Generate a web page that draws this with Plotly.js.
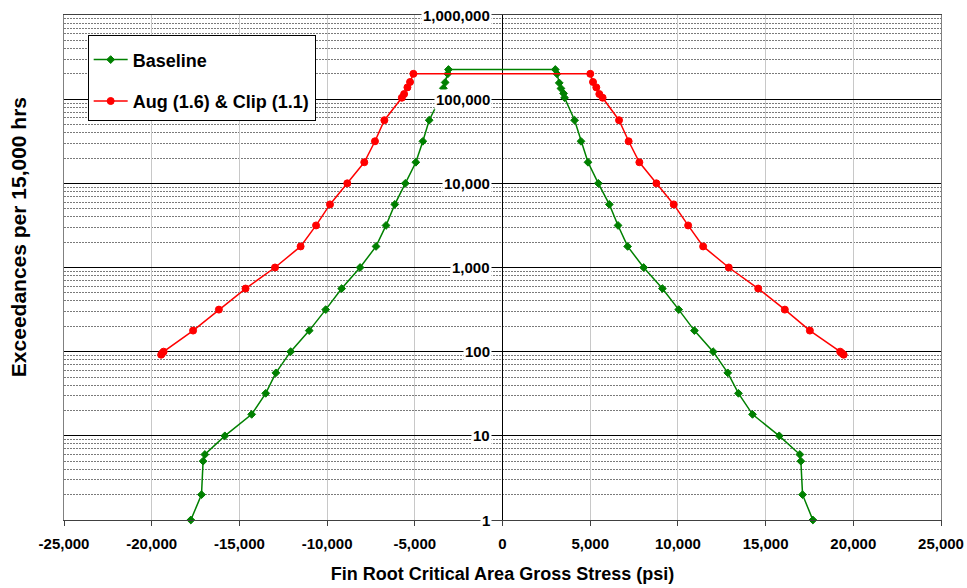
<!DOCTYPE html>
<html><head><meta charset="utf-8">
<script src="https://cdn.plot.ly/plotly-3.0.1.min.js"></script>
<style>html,body{margin:0;padding:0;background:#fff}#chart{width:967px;height:588px}</style>
</head><body><div id="chart"></div>
<script>
// Baseline series (psi, exceedances per 15,000 hrs)
const baselineStress = [-17770, -17160, -17070, -16970, -15830, -14300, -13500, -12920, -12080, -11020, -10080, -9170, -8120, -7210, -6640, -6140, -5540, -4940, -4540, -4180, -3540, -3480, -3370, -3270, -3120, -3080,
  3010, 3105, 3236, 3333, 3482, 3539, 4110, 4475, 4875, 5463, 6090, 6587, 7135, 8048, 9116, 10046, 10942, 12009, 12843, 13454, 14253, 15777, 16953, 17010, 17107, 17695];
const baselineExceed = [1, 2, 5, 6, 10, 18, 32, 56, 100, 178, 316, 562, 1000, 1780, 3160, 5620, 10000, 17800, 31600, 56200, 104000, 117000, 135000, 158000, 200000, 225000,
  225000, 200000, 156000, 134000, 117000, 104000, 56200, 31600, 17800, 10000, 5620, 3160, 1780, 1000, 562, 316, 178, 100, 56, 32, 18, 10, 6, 5, 2, 1];
// Aug (1.6) & Clip (1.1) series
const augStress = [-19460, -19400, -19320, -17640, -16170, -14650, -12970, -11510, -10630, -9835, -8850, -7880, -7270, -6735, -5740, -5610, -5420, -5270, -5080,
  5006, 5160, 5348, 5520, 5708, 6644, 7192, 7803, 8773, 9761, 10583, 11439, 12900, 14578, 16097, 17524, 19250, 19350, 19450];
const augExceed = [92, 96, 100, 178, 316, 562, 1000, 1780, 3160, 5620, 10000, 17800, 31600, 56200, 104000, 115000, 138000, 160000, 200000,
  200000, 160000, 138000, 115000, 104000, 56200, 31600, 17800, 10000, 5620, 3160, 1780, 1000, 562, 316, 178, 100, 96, 92];

const seriesNames = ['Baseline', 'Aug (1.6) & Clip (1.1)'];
const xTickVals = [-25000, -20000, -15000, -10000, -5000, 0, 5000, 10000, 15000, 20000, 25000];
const xTickText = ['-25,000', '-20,000', '-15,000', '-10,000', '-5,000', '0', '5,000', '10,000', '15,000', '20,000', '25,000'];
const yTickVals = [1, 10, 100, 1000, 10000, 100000, 1000000];
const yTickText = ['1', '10', '100', '1,000', '10,000', '100,000', '1,000,000'];

const FONT = 'Liberation Sans, Arial, sans-serif';

const traces = [
  {x: baselineStress, y: baselineExceed, name: seriesNames[0], type: 'scatter', mode: 'lines+markers',
   legendgroup: 'a', cliponaxis: false,
   line: {color: '#008000', width: 1.5},
   marker: {symbol: 'diamond', size: 6, color: '#008000', line: {color: '#008000', width: 1}}},
  {x: augStress, y: augExceed, name: seriesNames[1], type: 'scatter', mode: 'lines+markers',
   legendgroup: 'b', cliponaxis: false,
   line: {color: '#FF0000', width: 1.5},
   marker: {symbol: 'circle', size: 7, color: '#FF0000', line: {color: '#FF0000', width: 1}}}
];

const annotations = yTickVals.map((v, i) => ({
  xref: 'x', yref: 'y', x: 0, y: Math.log10(v), text: yTickText[i],
  xanchor: 'right', yanchor: 'middle', xshift: -11, showarrow: false,
  bgcolor: '#ffffff', borderpad: 1,
  font: {family: FONT, size: 15, color: '#000', weight: 'bold'}
}));
annotations.push({
  xref: 'paper', yref: 'paper', x: -0.0525, y: 0.56, textangle: -90,
  text: 'Exceedances per 15,000 hrs', showarrow: false, xanchor: 'center', yanchor: 'middle',
  font: {family: FONT, size: 21, color: '#000', weight: 'bold'}
});

const layout = {
  width: 967, height: 588,
  margin: {l: 64, r: 26, t: 15, b: 68},
  paper_bgcolor: '#fff', plot_bgcolor: '#fff',
  font: {family: FONT, color: '#000'},
  showlegend: true,
  legend: {x: 0.027, y: 0.96, xanchor: 'left', yanchor: 'top',
    bgcolor: '#fff', bordercolor: '#000', borderwidth: 1,
    traceorder: 'grouped', tracegroupgap: 15, itemwidth: 34,
    title: {text: ' ', font: {family: FONT, size: 4}},
    font: {family: FONT, size: 18, color: '#000', weight: 'bold'}},
  xaxis: {
    range: [-25000, 25000], tickmode: 'array', tickvals: xTickVals, ticktext: xTickText,
    showgrid: true, gridcolor: '#c8c8c8', gridwidth: 1,
    zeroline: true, zerolinecolor: '#000', zerolinewidth: 1,
    showline: true, linecolor: '#404040', linewidth: 1, mirror: true,
    ticks: 'outside', ticklen: 5, tickcolor: '#404040', ticklabelstandoff: 5,
    tickfont: {family: FONT, size: 15, color: '#000', weight: 'bold'},
    title: {text: 'Fin Root Critical Area Gross Stress (psi)', standoff: 16,
      font: {family: FONT, size: 18, color: '#000', weight: 'bold'}}
  },
  yaxis: {
    type: 'log', range: [0, 6], dtick: 1, tick0: 0,
    showticklabels: false, ticks: '',
    showgrid: true, gridcolor: '#000', gridwidth: 1,
    minor: {dtick: 'D1', showgrid: true, gridcolor: '#7a7a7a', gridwidth: 1, griddash: '2px,1px', ticks: ''},
    showline: true, linecolor: '#808080', linewidth: 1, mirror: true, zeroline: false
  },
  annotations: annotations
};

Plotly.newPlot('chart', traces, layout, {displayModeBar: false, staticPlot: true});
</script>
</body></html>
